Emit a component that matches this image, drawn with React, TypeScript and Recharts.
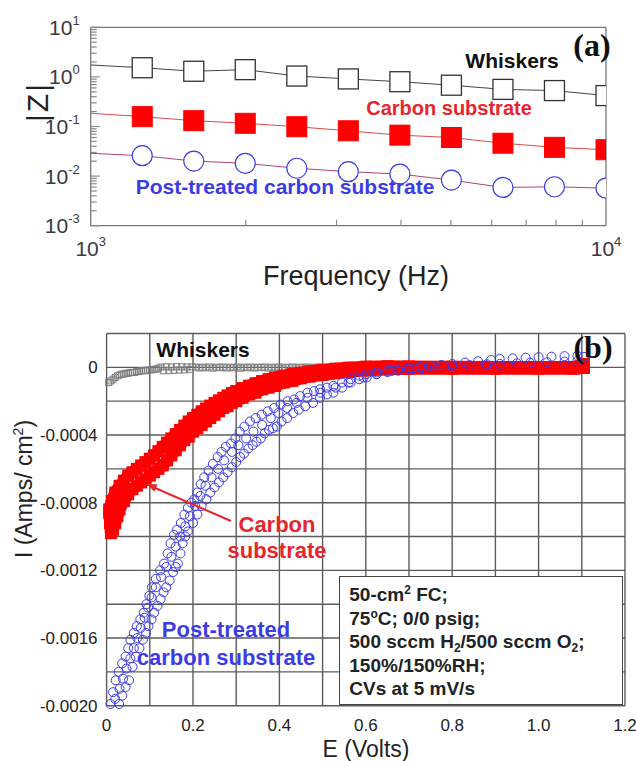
import React from "react";
import { LineChart, Line, XAxis, YAxis, CartesianGrid, ScatterChart, Scatter } from "recharts";

// ---- panel (a): |Z| vs frequency ----
const freqHz = [1000, 1259, 1585, 1995, 2512, 3162, 3981, 5012, 6310, 7943, 10000];
const zWhiskers = [1.74, 1.53, 1.3, 1.4, 1.04, 0.91, 0.8, 0.68, 0.56, 0.53, 0.42];
const zCarbon = [0.185, 0.158, 0.131, 0.116, 0.099, 0.082, 0.067, 0.06, 0.046, 0.038, 0.034];
const zPostTreated = [0.0288, 0.0258, 0.0201, 0.0181, 0.0144, 0.0123, 0.011, 0.0083, 0.0059, 0.0061, 0.0057];

const freqTicks = [1000, 2000, 3000, 4000, 5000, 6000, 7000, 8000, 9000, 10000];
const zDecades = [0.001, 0.01, 0.1, 1];
const minorSteps = [2, 3, 4, 5, 6, 7, 8, 9];

// ---- panel (b): CVs, [E (V), I (A/cm2)] ----
const cvWhiskers = [
  [0.005, -0.00009], [0.01, -0.00008], [0.015, -0.00007], [0.02, -0.00006], [0.025, -0.00005],
  [0.03, -0.000045], [0.035, -0.00004], [0.04, -0.00004], [0.045, -0.000035], [0.05, -0.000035],
  [0.055, -0.00003], [0.06, -0.00003], [0.065, -0.00003], [0.07, -0.000025], [0.075, -0.000025],
  [0.08, -0.00002], [0.085, -0.00002], [0.09, -0.00002], [0.095, -0.000018], [0.1, -0.000015],
  [0.105, -0.000015], [0.11, -0.000012], [0.115, -0.00001], [0.12, -0.000005],
  [0.126, 0.000002], [0.132, -0.00002], [0.138, 0.000003], [0.144, -0.00002], [0.15, 0.000002],
  [0.156, -0.000018], [0.162, 0.000004], [0.168, -0.000016], [0.174, 0.000003], [0.18, -0.000015],
  [0.186, 0.000002], [0.192, -0.000012], [0.198, 0.000003],
  [0.206, 0.000002], [0.214, -0.000004], [0.222, 0.000001], [0.23, -0.000003], [0.238, 0.000002],
  [0.246, -0.000005], [0.254, 0.000001], [0.262, -0.000002], [0.27, 0.000002], [0.278, -0.000004],
  [0.286, 0.000001], [0.294, -0.000003], [0.302, 0.000002], [0.31, -0.000005], [0.318, 0.000001],
  [0.326, -0.000003], [0.334, 0.000002], [0.342, -0.000004], [0.35, 0.000001], [0.358, -0.000002],
  [0.366, 0.000002], [0.374, -0.000004], [0.382, 0.000001], [0.39, -0.000003], [0.398, 0.000002],
  [0.406, -0.000005], [0.414, 0.000001], [0.422, -0.000002], [0.43, 0.000002], [0.438, -0.000004],
  [0.446, 0.000001], [0.454, -0.000003], [0.462, 0.000002], [0.47, -0.000004], [0.478, 0.000001],
  [0.486, -0.000002], [0.494, 0.000002], [0.502, -0.000003], [0.51, 0.000001], [0.518, -0.000004],
  [0.526, 0.000002], [0.534, -0.000002], [0.542, 0.000001], [0.55, -0.000003], [0.56, 0.000002],
  [0.6, -0.000002], [0.65, 0.000001], [0.7, -0.000002], [0.75, 0.000001], [0.8, -0.000002],
  [0.85, 0.000001], [0.9, -0.000002], [0.95, 0.000001], [1.0, -0.000002], [1.05, 0.000001], [1.1, 0.0],
];

const cvCarbonUpper = [
  [0.006, -0.00084], [0.012, -0.00079], [0.02, -0.00074], [0.03, -0.0007], [0.04, -0.00067],
  [0.05, -0.00064], [0.06, -0.00062], [0.07, -0.0006], [0.08, -0.00058], [0.09, -0.00056],
  [0.1, -0.00054], [0.11, -0.00052], [0.12, -0.000495], [0.13, -0.00047], [0.14, -0.000445],
  [0.15, -0.00042], [0.16, -0.000395], [0.17, -0.00037], [0.18, -0.000345], [0.19, -0.00032],
  [0.2, -0.0003], [0.21, -0.00028], [0.22, -0.00026], [0.23, -0.000243], [0.24, -0.000226],
  [0.25, -0.00021], [0.26, -0.000195], [0.27, -0.00018], [0.28, -0.000166], [0.29, -0.000152],
  [0.3, -0.00014], [0.315, -0.000123], [0.33, -0.000108], [0.345, -0.000094], [0.36, -0.000081],
  [0.375, -0.00007], [0.39, -0.00006], [0.41, -0.00005], [0.43, -0.00004], [0.45, -0.000032],
  [0.47, -0.000024], [0.5, -0.000015], [0.53, -0.000008], [0.56, -0.000002], [0.6, 0.000004],
  [0.65, 0.000006], [0.7, 0.000005], [0.8, 0.000003], [0.9, 0.000002], [1.0, 0.000002],
  [1.08, 0.000002], [1.105, 0.00002],
];

const cvCarbonLower = [
  [0.006, -0.00086], [0.008, -0.00092], [0.01, -0.00098], [0.015, -0.00096], [0.02, -0.00092],
  [0.025, -0.00088], [0.03, -0.00084], [0.04, -0.00079], [0.05, -0.00075], [0.06, -0.00072],
  [0.07, -0.0007], [0.08, -0.00068], [0.09, -0.000665], [0.1, -0.00064], [0.11, -0.00062],
  [0.12, -0.0006], [0.13, -0.00058], [0.14, -0.00055], [0.15, -0.00052], [0.16, -0.00049],
  [0.17, -0.00046], [0.18, -0.00043], [0.19, -0.00041], [0.2, -0.00038], [0.21, -0.00036],
  [0.22, -0.00034], [0.23, -0.00032], [0.24, -0.0003], [0.25, -0.00028], [0.26, -0.00026],
  [0.27, -0.00024], [0.28, -0.00023], [0.29, -0.00021], [0.3, -0.0002], [0.315, -0.00018],
  [0.33, -0.00016], [0.345, -0.00015], [0.36, -0.00013], [0.375, -0.00012], [0.39, -0.00011],
  [0.41, -0.00009], [0.43, -0.00008], [0.45, -0.000065], [0.47, -0.000055], [0.5, -0.000045],
  [0.53, -0.000035], [0.56, -0.000027], [0.6, -0.000018], [0.65, -0.000012], [0.7, -0.000008],
  [0.8, -0.000008], [0.9, -0.000008], [1.0, -0.000008], [1.08, -0.000008], [1.105, -0.000004],
];

const cvPostUpper = [
  [0.009, -0.00199], [0.015, -0.00192], [0.021, -0.00185], [0.028, -0.0018], [0.036, -0.00175],
  [0.044, -0.00171], [0.05, -0.00166], [0.055, -0.00161], [0.063, -0.00157], [0.07, -0.00153],
  [0.078, -0.00149], [0.086, -0.00145], [0.092, -0.0014], [0.099, -0.00135], [0.105, -0.0013],
  [0.114, -0.00125], [0.124, -0.0012], [0.133, -0.00116], [0.141, -0.0011], [0.148, -0.00104],
  [0.156, -0.00099], [0.163, -0.00096], [0.172, -0.00092], [0.18, -0.00087], [0.188, -0.00083],
  [0.196, -0.0008], [0.203, -0.00078], [0.21, -0.00074], [0.218, -0.00069], [0.226, -0.00065],
  [0.236, -0.00061], [0.246, -0.00057], [0.257, -0.00053], [0.266, -0.0005], [0.276, -0.00047],
  [0.288, -0.00045], [0.298, -0.00042], [0.308, -0.00038], [0.319, -0.00035], [0.332, -0.00032],
  [0.345, -0.0003], [0.359, -0.00028], [0.373, -0.00026], [0.388, -0.00024], [0.403, -0.00022],
  [0.419, -0.0002], [0.434, -0.00019], [0.448, -0.00017], [0.465, -0.00015], [0.48, -0.00014],
  [0.494, -0.00013], [0.51, -0.00012], [0.525, -0.00011], [0.545, -0.00009], [0.565, -0.00007],
  [0.585, -0.00005], [0.602, -0.00004], [0.625, -0.00003], [0.65, -0.00002], [0.675, -0.000012],
  [0.7, -0.000005], [0.725, 0.000002], [0.75, 0.000008], [0.775, 0.000014], [0.8, 0.00002],
  [0.83, 0.000028], [0.86, 0.000036], [0.89, 0.000044], [0.91, 0.00005], [0.94, 0.000053],
  [0.97, 0.000057], [1.0, 0.00006], [1.03, 0.000063], [1.06, 0.000066], [1.09, 0.000068],
  [1.105, 0.000062],
];

const cvPostMiddle = [
  [0.02, -0.00196], [0.03, -0.0019], [0.038, -0.00184], [0.046, -0.00178], [0.055, -0.00172],
  [0.063, -0.00166], [0.071, -0.0016], [0.079, -0.00154], [0.088, -0.00148], [0.096, -0.00142],
  [0.104, -0.00136], [0.114, -0.0013], [0.126, -0.00124], [0.138, -0.00118], [0.15, -0.00112],
  [0.16, -0.00106], [0.17, -0.001], [0.182, -0.00094], [0.193, -0.00088], [0.205, -0.00082],
  [0.217, -0.00076], [0.229, -0.0007], [0.243, -0.00065], [0.258, -0.0006], [0.272, -0.00055],
  [0.29, -0.0005], [0.305, -0.00046], [0.323, -0.00042], [0.34, -0.00038], [0.36, -0.00034],
  [0.38, -0.0003], [0.398, -0.00027], [0.418, -0.00024], [0.44, -0.00021], [0.465, -0.00018],
  [0.495, -0.00015], [0.53, -0.00012], [0.56, -0.00009], [0.595, -0.00006], [0.625, -0.00004],
  [0.66, -0.00002], [0.71, -0.000005],
];

const cvPostLower = [
  [0.029, -0.00199], [0.036, -0.00194], [0.044, -0.00189], [0.052, -0.00185], [0.06, -0.00177],
  [0.068, -0.00171], [0.076, -0.00166], [0.084, -0.00161], [0.091, -0.00157], [0.097, -0.00153],
  [0.104, -0.00149], [0.11, -0.00145], [0.118, -0.00141], [0.125, -0.00137], [0.132, -0.00133],
  [0.138, -0.0013], [0.146, -0.00126], [0.154, -0.00121], [0.16, -0.00118], [0.165, -0.00116],
  [0.171, -0.0011], [0.176, -0.00104], [0.182, -0.001], [0.188, -0.00097], [0.2, -0.00092],
  [0.21, -0.00087], [0.22, -0.00082], [0.231, -0.00078], [0.24, -0.00074], [0.25, -0.00071],
  [0.26, -0.00068], [0.27, -0.00065], [0.28, -0.00062], [0.29, -0.00059], [0.3, -0.00056],
  [0.309, -0.00053], [0.318, -0.00051], [0.328, -0.00048], [0.338, -0.00046], [0.347, -0.00044],
  [0.357, -0.00042], [0.366, -0.00039], [0.376, -0.00037], [0.385, -0.00036], [0.394, -0.00035],
  [0.405, -0.00032], [0.418, -0.0003], [0.432, -0.00027], [0.445, -0.00025], [0.46, -0.00023],
  [0.478, -0.00021], [0.494, -0.00018], [0.51, -0.00016], [0.525, -0.00015], [0.545, -0.00012],
  [0.565, -0.00009], [0.585, -0.00007], [0.602, -0.00006], [0.625, -0.00004], [0.65, -0.000028],
  [0.675, -0.00002], [0.7, -0.000012], [0.73, -0.000005], [0.76, 0.000001], [0.8, 0.000008],
  [0.84, 0.000013], [0.88, 0.000018], [0.91, 0.00002], [0.95, 0.000024], [0.98, 0.000027],
  [1.02, 0.00003], [1.06, 0.000034], [1.09, 0.000038],
];

const eTicks = [0, 0.2, 0.4, 0.6, 0.8, 1.0, 1.2];
const iTicks = [0, -0.0004, -0.0008, -0.0012, -0.0016, -0.002];
const eGrid = [0, 0.1, 0.2, 0.3, 0.4, 0.5, 0.6, 0.7, 0.8, 0.9, 1.0, 1.1, 1.2];
const iGrid = [0.0002, 0, -0.0002, -0.0004, -0.0006, -0.0008, -0.001, -0.0012, -0.0014, -0.0016, -0.0018, -0.002];

const FONT = '"Liberation Sans", Arial, Helvetica, sans-serif';
const SERIF = '"Liberation Serif", "Times New Roman", serif';
const RED = "#ff0000";
const RED_TEXT = "#e8242c";
const BLUE = "#3c3ce6";

const impedanceRows = freqHz.map((f, k) => ({
  f,
  whiskers: zWhiskers[k],
  carbon: zCarbon[k],
  post: zPostTreated[k],
}));
const zTicks = [
  ...zDecades.flatMap((d) => [d, ...minorSteps.map((m) => Number((m * d).toPrecision(3)))]),
  10,
];
const toPts = (arr: number[][]) => arr.map(([e, i]) => ({ e, i }));

function isDecade(v: number) {
  const l = Math.log10(v);
  return Math.abs(l - Math.round(l)) < 1e-6;
}

function FreqTick(props: any) {
  const { x, y, payload } = props;
  const v = payload.value;
  if (!isDecade(v)) return <line x1={x} x2={x} y1={y} y2={y - 6} stroke="#8a8a8a" strokeWidth={1.2} />;
  return (
    <text x={x} y={y + 30} textAnchor="middle" fontSize={21} fill="#3a3a3a" fontFamily={FONT}>
      10<tspan dy={-10} fontSize={13}>{Math.round(Math.log10(v))}</tspan>
    </text>
  );
}

function ZTick(props: any) {
  const { x, y, payload } = props;
  const v = payload.value;
  if (!isDecade(v)) return <line x1={x} x2={x + 6} y1={y} y2={y} stroke="#8a8a8a" strokeWidth={1.2} />;
  return (
    <g>
      <line x1={x} x2={x + 9} y1={y} y2={y} stroke="#8a8a8a" strokeWidth={1.2} />
      <text x={x - 11} y={y + 7.5} textAnchor="end" fontSize={21} fill="#3a3a3a" fontFamily={FONT}>
        10<tspan dy={-10} fontSize={13}>{Math.round(Math.log10(v))}</tspan>
      </text>
    </g>
  );
}

// first point (1000 Hz) only starts the line, no marker there
const whiskerDot = (p: any) =>
  p.index === 0 ? <g key={p.index} /> : (
    <rect key={p.index} x={p.cx - 10} y={p.cy - 10} width={20} height={20} fill="#fff" stroke="#333" strokeWidth={1.3} />
  );
const carbonDot = (p: any) =>
  p.index === 0 ? <g key={p.index} /> : (
    <rect key={p.index} x={p.cx - 10} y={p.cy - 10} width={20} height={20} fill={RED} stroke={RED} />
  );
const postDot = (p: any) =>
  p.index === 0 ? <g key={p.index} /> : (
    <circle key={p.index} cx={p.cx} cy={p.cy} r={10} fill="#fff" stroke={BLUE} strokeWidth={1.2} />
  );

const graySquare = (p: any) => (
  <rect x={p.cx - 3} y={p.cy - 3} width={6} height={6} fill="none" stroke="#7d7d7d" strokeWidth={1} />
);
const redSquare = (p: any) => <rect x={p.cx - 6} y={p.cy - 6} width={12} height={12} fill={RED} />;
const blueCircle = (p: any) => (
  <circle cx={p.cx} cy={p.cy} r={4.5} fill="none" stroke={BLUE} strokeWidth={1} />
);

const abs = (left: number, top: number, extra: React.CSSProperties = {}): React.CSSProperties => ({
  position: "absolute",
  left,
  top,
  transform: "translate(-50%, -50%)",
  whiteSpace: "nowrap",
  lineHeight: 1,
  fontFamily: FONT,
  ...extra,
});

const supStyle: React.CSSProperties = { fontSize: 12, lineHeight: 1, position: "relative", top: -7 };
const subStyle: React.CSSProperties = { fontSize: 12, lineHeight: 1, position: "relative", top: 4 };

export default function App() {
  return (
    <div
      style={{
        position: "absolute",
        left: 0,
        top: 0,
        width: 636,
        height: 761,
        background: "#fff",
        overflow: "hidden",
        fontFamily: FONT,
      }}
    >
      {/* (a) */}
      <div style={{ position: "absolute", left: 0, top: 0 }}>
        <LineChart width={636} height={300} data={impedanceRows} margin={{ top: 27.3, right: 30, left: 0, bottom: 0 }}>
          <CartesianGrid horizontalValues={[0.001, 10]} verticalValues={[1000, 10000]} stroke="#777" strokeWidth={1.3} />
          <XAxis
            dataKey="f"
            type="number"
            scale="log"
            domain={[1000, 10000]}
            allowDataOverflow
            ticks={freqTicks}
            interval={0}
            tick={FreqTick}
            tickSize={0}
            tickMargin={0}
            tickLine={false}
            axisLine={false}
            height={74.3}
          />
          <YAxis
            type="number"
            scale="log"
            domain={[0.001, 10]}
            allowDataOverflow
            ticks={zTicks}
            interval={0}
            tick={ZTick}
            tickSize={0}
            tickMargin={0}
            tickLine={false}
            axisLine={false}
            width={90.7}
          />
          <Line dataKey="whiskers" stroke="#444" strokeWidth={1} dot={whiskerDot} isAnimationActive={false} />
          <Line dataKey="carbon" stroke="#e04848" strokeWidth={1} dot={carbonDot} isAnimationActive={false} />
          <Line dataKey="post" stroke="#b0407a" strokeWidth={1} dot={postDot} isAnimationActive={false} />
        </LineChart>
      </div>
      <div style={abs(38, 102, { transform: "translate(-50%, -50%) rotate(-90deg)", fontSize: 30, letterSpacing: 2, color: "#222" })}>|Z|</div>
      <div style={abs(356, 276, { fontSize: 27, color: "#222" })}>Frequency (Hz)</div>
      <div style={abs(512, 60, { fontSize: 21, fontWeight: 700, color: "#111" })}>Whiskers</div>
      <div style={abs(449, 108, { fontSize: 20, fontWeight: 700, color: RED_TEXT })}>Carbon substrate</div>
      <div style={abs(285, 186, { fontSize: 21, fontWeight: 700, color: BLUE })}>Post-treated carbon substrate</div>
      <div style={abs(592, 45, { fontSize: 32, fontWeight: 700, fontFamily: SERIF, color: "#111" })}>(a)</div>

      {/* (b) */}
      <div style={{ position: "absolute", left: 0, top: 300 }}>
        <ScatterChart width={636} height={461} margin={{ top: 33.5, right: 11, left: 0, bottom: 0 }}>
          <CartesianGrid horizontalValues={iGrid} verticalValues={eGrid} stroke="#5c5c5c" strokeWidth={1.4} />
          <XAxis
            dataKey="e"
            type="number"
            domain={[0, 1.2]}
            ticks={eTicks}
            interval={0}
            tickFormatter={(v: number) => (v === 0 ? "0" : v.toFixed(1))}
            tick={{ fontSize: 17, fill: "#222", fontFamily: FONT }}
            tickSize={0}
            tickMargin={13}
            tickLine={false}
            axisLine={false}
            height={55.3}
          />
          <YAxis
            dataKey="i"
            type="number"
            domain={[-0.002, 0.0002]}
            ticks={iTicks}
            interval={0}
            tickFormatter={(v: number) => (v === 0 ? "0" : v.toFixed(4))}
            tick={{ fontSize: 17, fill: "#222", fontFamily: FONT }}
            tickSize={0}
            tickMargin={9}
            tickLine={false}
            axisLine={false}
            width={106.6}
          />
          <Scatter data={toPts(cvWhiskers)} shape={graySquare} isAnimationActive={false} />
          <Scatter
            data={toPts(cvCarbonUpper)}
            shape={redSquare}
            line={{ stroke: RED, strokeWidth: 12, strokeLinejoin: "round" }}
            isAnimationActive={false}
          />
          <Scatter
            data={toPts(cvCarbonLower)}
            shape={redSquare}
            line={{ stroke: RED, strokeWidth: 12, strokeLinejoin: "round" }}
            isAnimationActive={false}
          />
          <Scatter data={toPts(cvPostUpper)} shape={blueCircle} isAnimationActive={false} />
          <Scatter data={toPts(cvPostMiddle)} shape={blueCircle} isAnimationActive={false} />
          <Scatter data={toPts(cvPostLower)} shape={blueCircle} isAnimationActive={false} />
        </ScatterChart>
      </div>

      <div
        style={{
          position: "absolute",
          left: 339.3,
          top: 576,
          width: 284,
          height: 128.7,
          boxSizing: "border-box",
          border: "1.5px solid #444",
          background: "#fff",
          padding: "6px 0 0 9px",
          fontSize: 19,
          fontWeight: 700,
          lineHeight: "23.5px",
          color: "#222",
          whiteSpace: "nowrap",
        }}
      >
        <div>
          50-cm<span style={supStyle}>2</span> FC;
        </div>
        <div>
          75<span style={supStyle}>o</span>C; 0/0 psig;
        </div>
        <div>
          500 sccm H<span style={subStyle}>2</span>/500 sccm O<span style={subStyle}>2</span>;
        </div>
        <div>150%/150%RH;</div>
        <div>CVs at 5 mV/s</div>
      </div>

      <div style={abs(24, 489, { transform: "translate(-50%, -50%) rotate(-90deg)", fontSize: 23, color: "#222" })}>
        I (Amps/ cm<span style={{ fontSize: 14, lineHeight: 1, position: "relative", top: -9 }}>2</span>)
      </div>
      <div style={abs(366, 749, { fontSize: 23, color: "#222" })}>E (Volts)</div>
      <div style={abs(203, 349, { fontSize: 21, fontWeight: 700, color: "#111" })}>Whiskers</div>
      <div style={abs(277, 525, { fontSize: 22, fontWeight: 700, color: RED_TEXT })}>Carbon</div>
      <div style={abs(277, 551, { fontSize: 22, fontWeight: 700, color: RED_TEXT })}>substrate</div>
      <div style={abs(226, 630, { fontSize: 22, fontWeight: 700, color: BLUE })}>Post-treated</div>
      <div style={abs(226, 657.7, { fontSize: 22, fontWeight: 700, color: BLUE })}>carbon substrate</div>
      <div style={abs(593, 347, { fontSize: 32, fontWeight: 700, fontFamily: SERIF, color: "#111" })}>(b)</div>

      <svg width={636} height={761} style={{ position: "absolute", left: 0, top: 0, pointerEvents: "none" }}>
        <line x1={231} y1={521} x2={154} y2={487.5} stroke={RED_TEXT} strokeWidth={2} />
        <polygon points="146.7,484 157.5,484.3 154.3,491.7" fill={RED_TEXT} />
      </svg>
    </div>
  );
}
